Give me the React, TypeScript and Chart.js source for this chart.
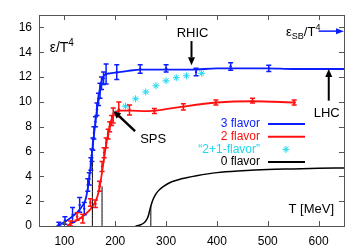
import React, { useEffect, useRef } from "react";
import { Chart, registerables } from "chart.js";
Chart.register(...registerables);

const FONT = "'Liberation Sans', Arial, sans-serif";

const X_TICKS = [100, 200, 300, 400, 500, 600];
const Y_TICKS = [0, 2, 4, 6, 8, 10, 12, 14, 16];

// 3 flavor lattice points
const T3 = [89, 101, 116, 130, 139, 146, 149, 152, 154, 156, 158, 161, 164, 167, 170, 173, 177, 182, 203, 249, 300, 359, 427, 502];
const E3 = [0.15, 0.45, 0.9, 1.7, 1.4, 3.3, 3.8, 5.0, 5.7, 6.6, 7.5, 8.4, 9.4, 10.2, 10.9, 11.5, 11.9, 12.25, 12.4, 12.65, 12.7, 12.4, 12.85, 12.7];
const ERR3 = [0.15, 0.3, 0.6, 0.6, 0.5, 0.5, 0.5, 0.5, 0.5, 0.5, 0.5, 0.4, 0.5, 0.5, 0.6, 0.5, 0.5, 0.8, 0.6, 0.35, 0.3, 0.3, 0.3, 0.25];
// 3 flavor fit curve
const C3_T = [86, 95, 105, 115, 125, 135, 142, 148, 152, 156, 160, 164, 168, 172, 176, 180, 190, 200, 225, 250, 300, 350, 400, 450, 500, 550, 600, 650];
const C3_E = [0, 0.2, 0.45, 0.75, 1.1, 1.6, 2.2, 3.6, 5.0, 6.6, 8.0, 9.4, 10.6, 11.5, 12.0, 12.2, 12.3, 12.35, 12.5, 12.6, 12.6, 12.6, 12.7, 12.7, 12.7, 12.65, 12.65, 12.65];

// 2 flavor lattice points
const T2 = [112, 125, 136, 151, 161, 169, 174, 178, 182, 186, 189, 193, 196, 207, 228, 277, 334, 398, 470, 552];
const E2 = [0.2, 0.76, 0.6, 1.9, 1.8, 3.2, 4.8, 5.9, 6.7, 7.4, 8.0, 8.5, 8.9, 9.4, 9.35, 9.27, 9.6, 9.95, 10.1, 9.95];
const ERR2 = [0.2, 0.3, 0.35, 0.3, 0.3, 0.4, 0.4, 0.4, 0.4, 0.4, 0.4, 0.4, 0.6, 0.6, 0.4, 0.2, 0.25, 0.2, 0.2, 0.2];
// 2 flavor fit curve
const C2_T = [105, 120, 135, 150, 160, 165, 170, 175, 180, 185, 190, 195, 200, 210, 230, 260, 290, 330, 400, 470, 555];
const C2_E = [0, 0.35, 0.75, 1.3, 1.9, 2.4, 3.3, 4.6, 6.0, 7.2, 8.2, 8.8, 9.15, 9.3, 9.3, 9.25, 9.35, 9.6, 9.95, 10.05, 9.95];

// "2+1-flavor" points
const T21 = [200, 220, 240, 260, 280, 300, 320, 340, 370];
const E21 = [9.1, 9.65, 10.25, 10.8, 11.3, 11.7, 11.95, 12.1, 12.3];

// 0 flavor curve
const C0_T = [240, 250, 258, 263, 266, 268, 270, 273, 278, 285, 295, 310, 330, 360, 400, 450, 500, 550, 600, 650];
const C0_E = [0, 0.1, 0.3, 0.6, 0.95, 1.3, 1.6, 2.0, 2.45, 2.85, 3.2, 3.55, 3.8, 4.05, 4.3, 4.45, 4.55, 4.6, 4.65, 4.68];

// critical temperature markers
const TC_T = [155, 174, 270];
const TC_E = [5.6, 3.2, 1.6];

const LEGEND_LABELS = ["3 flavor", "2 flavor", "\u201c2+1-flavor\u201d", "0 flavor"];
const BLUE = "#0a1eff";
const RED = "#ff1010";
const CYAN = "#20d8ec";
const BLACK = "#000000";
const LEGEND_COLORS = [BLUE, RED, CYAN, BLACK];

const pts = (xs: number[], ys: number[]) => xs.map((x, i) => ({ x, y: ys[i] }));

function drawArrow(ctx: CanvasRenderingContext2D, x1: number, y1: number, x2: number, y2: number, color: string, lw: number, hl: number, hw: number) {
  const a = Math.atan2(y2 - y1, x2 - x1);
  const bx = x2 - hl * Math.cos(a);
  const by = y2 - hl * Math.sin(a);
  ctx.save();
  ctx.strokeStyle = color;
  ctx.fillStyle = color;
  ctx.lineWidth = lw;
  ctx.beginPath();
  ctx.moveTo(x1, y1);
  ctx.lineTo(bx, by);
  ctx.stroke();
  ctx.beginPath();
  ctx.moveTo(x2, y2);
  ctx.lineTo(bx + hw * Math.sin(a), by - hw * Math.cos(a));
  ctx.lineTo(bx - hw * Math.sin(a), by + hw * Math.cos(a));
  ctx.closePath();
  ctx.fill();
  ctx.restore();
}

function drawRich(ctx: CanvasRenderingContext2D, x: number, y: number, parts: [string, number, number][], color: string) {
  let cx = x;
  ctx.save();
  ctx.fillStyle = color;
  ctx.textBaseline = "alphabetic";
  ctx.textAlign = "left";
  for (const [t, size, dy] of parts) {
    ctx.font = `${size}px ${FONT}`;
    ctx.fillText(t, cx, y + dy);
    cx += ctx.measureText(t).width;
  }
  ctx.restore();
}

const errorBars = {
  id: "errorBars",
  afterDatasetsDraw(chart: any) {
    const ctx = chart.ctx;
    const xs = chart.scales.x;
    const ys = chart.scales.y;
    const sets: [number[], number[], number[], string][] = [
      [T3, E3, ERR3, BLUE],
      [T2, E2, ERR2, RED],
    ];
    ctx.save();
    ctx.lineWidth = 1.5;
    for (const [t, e, err, col] of sets) {
      ctx.strokeStyle = col;
      for (let i = 0; i < t.length; i++) {
        const px = xs.getPixelForValue(t[i]);
        const y1 = ys.getPixelForValue(Math.max(0, e[i] - err[i]));
        const y2 = ys.getPixelForValue(e[i] + err[i]);
        ctx.beginPath();
        ctx.moveTo(px, y1);
        ctx.lineTo(px, y2);
        ctx.moveTo(px - 2.5, y1);
        ctx.lineTo(px + 2.5, y1);
        ctx.moveTo(px - 2.5, y2);
        ctx.lineTo(px + 2.5, y2);
        ctx.stroke();
      }
    }
    ctx.restore();
  },
};

const decor = {
  id: "decor",
  afterDraw(chart: any) {
    const ctx: CanvasRenderingContext2D = chart.ctx;
    const xs = chart.scales.x;
    const ys = chart.scales.y;
    const ca = chart.chartArea;
    const X = (v: number) => xs.getPixelForValue(v);
    const Y = (v: number) => ys.getPixelForValue(v);

    // frame with inward ticks on all sides
    ctx.save();
    ctx.strokeStyle = "#555";
    ctx.lineWidth = 1;
    ctx.strokeRect(Math.round(ca.left) + 0.5, Math.round(ca.top) + 0.5, Math.round(ca.right - ca.left), Math.round(ca.bottom - ca.top));
    ctx.beginPath();
    for (const v of X_TICKS) {
      const px = Math.round(X(v)) + 0.5;
      ctx.moveTo(px, ca.bottom);
      ctx.lineTo(px, ca.bottom - 5);
      ctx.moveTo(px, ca.top);
      ctx.lineTo(px, ca.top + 5);
    }
    for (const v of Y_TICKS) {
      const py = Math.round(Y(v)) + 0.5;
      ctx.moveTo(ca.left, py);
      ctx.lineTo(ca.left + 5, py);
      ctx.moveTo(ca.right, py);
      ctx.lineTo(ca.right - 5, py);
    }
    ctx.stroke();
    ctx.restore();

    // y label
    drawRich(ctx, X(71), Y(14.0), [["\u03b5/T", 14, 0], ["4", 10, -6]], BLACK);

    // RHIC
    ctx.save();
    ctx.fillStyle = BLACK;
    ctx.font = `13px ${FONT}`;
    ctx.textAlign = "center";
    ctx.textBaseline = "alphabetic";
    ctx.fillText("RHIC", X(352), Y(15.25));
    ctx.fillText("LHC", X(616), Y(8.75));
    ctx.textAlign = "left";
    ctx.fillText("SPS", X(249), Y(6.7));
    ctx.textAlign = "right";
    ctx.fillText("T [MeV]", ca.right - 10, ca.bottom - 13);
    ctx.restore();
    drawArrow(ctx, X(350), Y(14.9), X(350), Y(12.95), BLACK, 2, 8, 3.5);
    drawArrow(ctx, X(620), Y(10.1), X(620), Y(12.65), BLACK, 2, 8, 3.5);
    drawArrow(ctx, X(239), Y(7.65), X(197), Y(9.25), BLACK, 2.5, 7, 3.5);

    // SB limit
    drawRich(ctx, X(536), Y(15.3), [["\u03b5", 13, 0], ["SB", 9, 3], ["/T", 13, 0], ["4", 9, -6]], BLACK);
    drawArrow(ctx, X(600), Y(15.7), X(650), Y(15.7), BLUE, 1.5, 8, 3);

    // legend
    ctx.save();
    ctx.font = `12px ${FONT}`;
    ctx.textAlign = "right";
    ctx.textBaseline = "middle";
    LEGEND_LABELS.forEach((lab, i) => {
      const y = ca.top + 109 + i * 12.7;
      ctx.fillStyle = LEGEND_COLORS[i];
      ctx.fillText(lab, ca.right - 84, y);
      if (i === 2) {
        ctx.strokeStyle = CYAN;
        ctx.lineWidth = 1;
        const cx = ca.right - 58;
        const r = 3.5;
        ctx.beginPath();
        for (let k = 0; k < 4; k++) {
          const a = (k * Math.PI) / 4;
          ctx.moveTo(cx - r * Math.cos(a), y - r * Math.sin(a));
          ctx.lineTo(cx + r * Math.cos(a), y + r * Math.sin(a));
        }
        ctx.stroke();
      } else {
        ctx.strokeStyle = LEGEND_COLORS[i];
        ctx.lineWidth = 2;
        ctx.beginPath();
        ctx.moveTo(ca.right - 76, y);
        ctx.lineTo(ca.right - 39, y);
        ctx.stroke();
      }
    });
    ctx.restore();
  },
};

export default function App() {
  const ref = useRef<HTMLCanvasElement>(null);
  useEffect(() => {
    if (!ref.current) return;
    const lineDs = (data: any, color: string, w: number) => ({
      data,
      showLine: true,
      borderColor: color,
      backgroundColor: color,
      borderWidth: w,
      pointRadius: 0,
      cubicInterpolationMode: "monotone" as const,
      tension: 0.4,
    });
    const datasets: any[] = [
      lineDs(pts(C0_T, C0_E), BLACK, 1.5),
      ...TC_T.map((t, i) => ({ ...lineDs(pts([t, t], [0, TC_E[i]]), BLACK, 1), tension: 0 })),
      lineDs(pts(C2_T, C2_E), RED, 1.8),
      lineDs(pts(C3_T, C3_E), BLUE, 1.8),
      { data: pts(T2, E2), showLine: false, pointRadius: 1.2, backgroundColor: RED, borderColor: RED, borderWidth: 0 },
      { data: pts(T3, E3), showLine: false, pointRadius: 1.2, backgroundColor: BLUE, borderColor: BLUE, borderWidth: 0 },
      { data: pts(T21, E21), showLine: false, pointStyle: "star", pointRadius: 3.5, borderColor: CYAN, backgroundColor: CYAN, borderWidth: 1 },
    ];
    const chart = new Chart(ref.current, {
      type: "scatter",
      data: { datasets },
      options: {
        animation: false,
        responsive: false,
        devicePixelRatio: 1,
        layout: { padding: { left: 0, right: 16, top: 15, bottom: 0 } },
        plugins: { legend: { display: false }, tooltip: { enabled: false } },
        scales: {
          x: {
            type: "linear",
            min: 50,
            max: 650,
            grid: { display: false, drawTicks: false },
            border: { display: false },
            ticks: { font: { family: FONT, size: 12 }, color: "#000", padding: 8, maxRotation: 0 },
            afterBuildTicks: (s: any) => { s.ticks = X_TICKS.map((v) => ({ value: v })); },
            afterFit: (s: any) => { s.height = 26; },
          },
          y: {
            type: "linear",
            min: 0,
            max: 17,
            grid: { display: false, drawTicks: false },
            border: { display: false },
            ticks: { font: { family: FONT, size: 12 }, color: "#000", padding: 7 },
            afterBuildTicks: (s: any) => { s.ticks = Y_TICKS.map((v) => ({ value: v })); },
            afterFit: (s: any) => { s.width = 39; },
          },
        },
      },
      plugins: [errorBars, decor],
    });
    return () => chart.destroy();
  }, []);
  return (
    <div style={{ position: "fixed", left: 0, top: 0, width: 360, height: 252, background: "#fff" }}>
      <canvas ref={ref} width={360} height={252} style={{ display: "block" }} />
    </div>
  );
}
